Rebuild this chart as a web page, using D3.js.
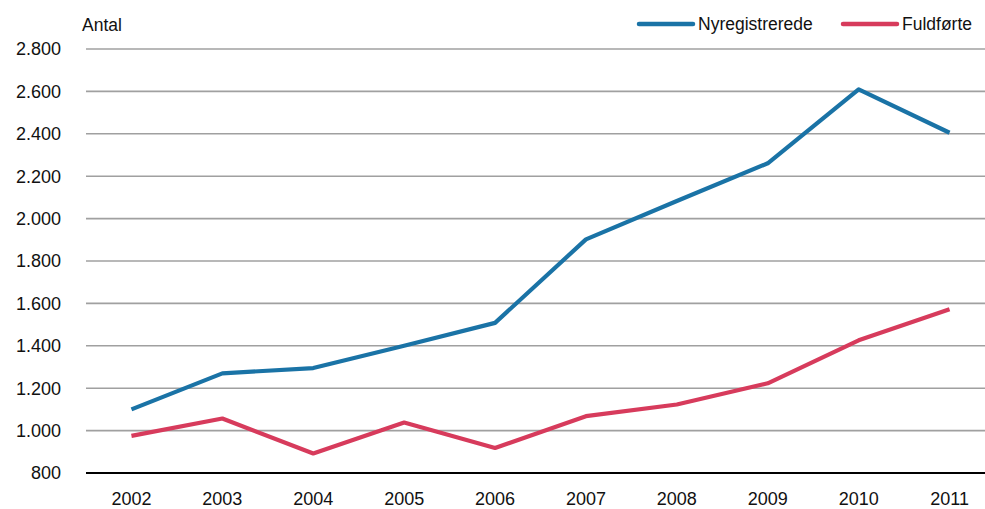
<!DOCTYPE html>
<html>
<head>
<meta charset="utf-8">
<script src="https://cdn.jsdelivr.net/npm/d3@7"></script>
<style>
  body { margin: 0; background: #fff; }
  svg text { font-family: "Liberation Sans", Arial, sans-serif; fill: #111; }
</style>
</head>
<body>
<div id="chart"></div>
<script>
const years = ['2002', '2003', '2004', '2005', '2006', '2007', '2008', '2009', '2010', '2011']
const nyregistrerede = [1100, 1270, 1295, 1400, 1508, 1902, 2083, 2261, 2610, 2405]
const fuldforte = [975, 1057, 892, 1038, 918, 1068, 1123, 1223, 1426, 1572]
const yTicks = [800, 1000, 1200, 1400, 1600, 1800, 2000, 2200, 2400, 2600, 2800]

const series = [
  { name: 'Nyregistrerede', values: nyregistrerede, color: '#1a73a6' },
  { name: 'Fuldførte', values: fuldforte, color: '#d73b5c' }
]

const width = 985
const height = 509

const svg = d3.select('#chart').append('svg')
  .attr('width', width)
  .attr('height', height)

const x = d3.scalePoint().domain(years).range([86, 995]).padding(0.5)
const y = d3.scaleLinear().domain([800, 2800]).range([473, 49])

const fmt = d => d3.format(',')(d).replace(/,/g, '.')

// gridlines
svg.append('g')
  .selectAll('line')
  .data(yTicks.filter(d => d !== 800))
  .enter().append('line')
  .attr('x1', 86).attr('x2', width)
  .attr('y1', d => y(d)).attr('y2', d => y(d))
  .attr('stroke', '#a0a0a0')
  .attr('stroke-width', 1.6)

// baseline
svg.append('line')
  .attr('x1', 86).attr('x2', width)
  .attr('y1', y(800)).attr('y2', y(800))
  .attr('stroke', '#000')
  .attr('stroke-width', 2.2)

// y labels
svg.append('g')
  .selectAll('text')
  .data(yTicks)
  .enter().append('text')
  .attr('x', 61)
  .attr('y', d => y(d))
  .attr('dy', '0.36em')
  .attr('text-anchor', 'end')
  .style('font-size', '18px')
  .text(fmt)

svg.append('text')
  .attr('x', 82)
  .attr('y', 31)
  .style('font-size', '17.5px')
  .text('Antal')

// x labels
svg.append('g')
  .selectAll('text')
  .data(years)
  .enter().append('text')
  .attr('x', d => x(d))
  .attr('y', 505)
  .attr('text-anchor', 'middle')
  .style('font-size', '18px')
  .text(d => d)

// lines
const line = d3.line()
  .x((d, i) => x(years[i]))
  .y(d => y(d))

svg.selectAll('.series')
  .data(series).enter()
  .append('path')
  .attr('class', 'series')
  .attr('d', d => line(d.values))
  .attr('fill', 'none')
  .attr('stroke', d => d.color)
  .attr('stroke-width', 4.2)
  .attr('stroke-linejoin', 'round')

// legend
const legendX = [639, 843]
const legend = svg.selectAll('.legend')
  .data(series).enter()
  .append('g')
  .attr('class', 'legend')
  .attr('transform', (d, i) => `translate(${legendX[i]},24)`)

legend.append('line')
  .attr('x1', 0).attr('x2', 54)
  .attr('stroke', d => d.color)
  .attr('stroke-width', 4.5)
  .attr('stroke-linecap', 'round')

legend.append('text')
  .attr('x', 59)
  .attr('dy', '0.36em')
  .style('font-size', '17.5px')
  .text(d => d.name)
</script>
</body>
</html>
